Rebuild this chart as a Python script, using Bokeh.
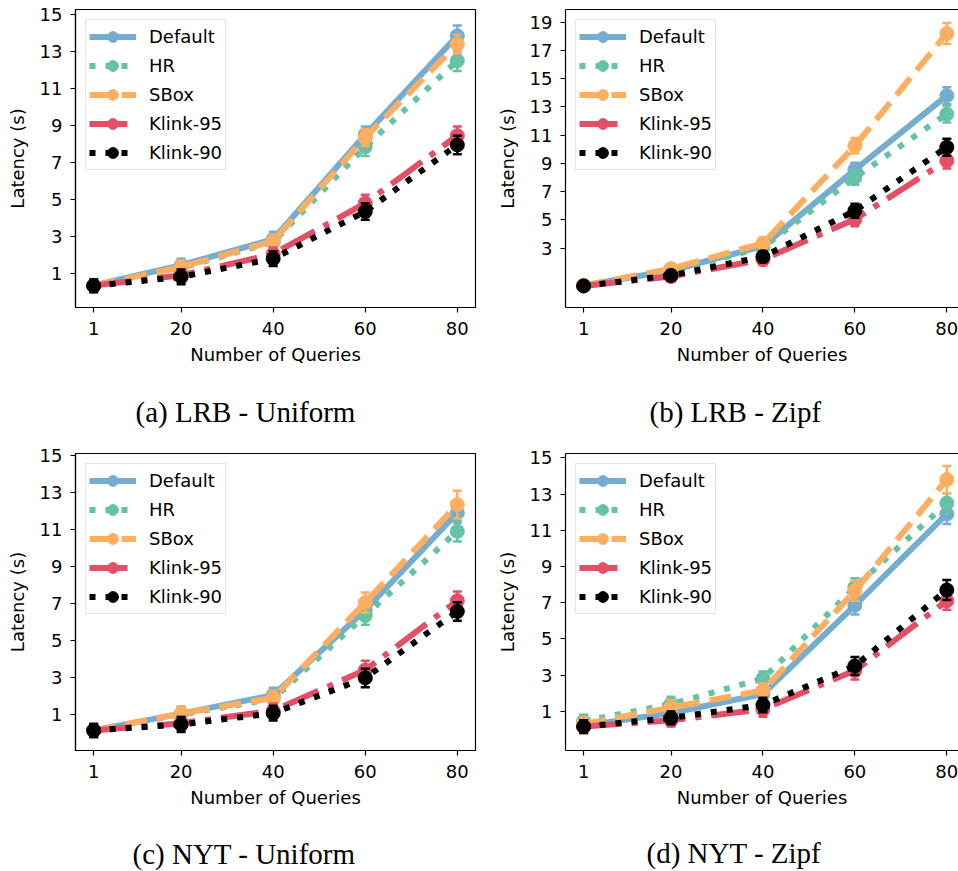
from bokeh.plotting import figure
from bokeh.models import FixedTicker, Range1d, Legend, LegendItem, Title, LinearAxis
from bokeh.layouts import column, row
from bokeh.embed import file_html
from bokeh.resources import INLINE

# ---------------- data ----------------
queries = [1, 20, 40, 60, 80]
x_ticks = [1, 20, 40, 60, 80]
series_names = ["Default", "HR", "SBox", "Klink-95", "Klink-90"]

# (a) LRB - Uniform
lrb_uni_default = [0.35, 1.45, 2.85, 8.50, 13.85]
lrb_uni_hr = [0.35, 1.30, 2.70, 7.85, 12.50]
lrb_uni_sbox = [0.35, 1.35, 2.75, 8.35, 13.40]
lrb_uni_k95 = [0.35, 0.90, 2.05, 4.80, 8.45]
lrb_uni_k90 = [0.33, 0.82, 1.80, 4.35, 7.95]
lrb_uni_default_err = [0.35, 0.35, 0.40, 0.45, 0.55]
lrb_uni_hr_err = [0.30, 0.30, 0.35, 0.50, 0.55]
lrb_uni_sbox_err = [0.30, 0.35, 0.35, 0.45, 0.50]
lrb_uni_k95_err = [0.30, 0.30, 0.35, 0.45, 0.50]
lrb_uni_k90_err = [0.35, 0.40, 0.40, 0.45, 0.50]

# (b) LRB - Zipf
lrb_zipf_default = [0.36, 1.42, 3.15, 8.55, 13.80]
lrb_zipf_hr = [0.35, 1.35, 3.05, 8.00, 12.50]
lrb_zipf_sbox = [0.36, 1.55, 3.35, 10.25, 18.20]
lrb_zipf_k95 = [0.33, 1.00, 2.20, 5.05, 9.20]
lrb_zipf_k90 = [0.33, 1.07, 2.40, 5.65, 10.15]
lrb_zipf_default_err = [0.30, 0.35, 0.40, 0.50, 0.60]
lrb_zipf_hr_err = [0.30, 0.35, 0.40, 0.50, 0.60]
lrb_zipf_sbox_err = [0.30, 0.35, 0.40, 0.55, 0.75]
lrb_zipf_k95_err = [0.30, 0.35, 0.40, 0.50, 0.55]
lrb_zipf_k90_err = [0.30, 0.35, 0.40, 0.50, 0.60]

# (c) NYT - Uniform
nyt_uni_default = [0.14, 1.05, 2.05, 6.65, 11.90]
nyt_uni_hr = [0.14, 1.00, 1.85, 6.35, 10.90]
nyt_uni_sbox = [0.14, 1.05, 1.90, 7.05, 12.35]
nyt_uni_k95 = [0.14, 0.53, 1.20, 3.40, 7.15]
nyt_uni_k90 = [0.14, 0.46, 1.07, 2.98, 6.57]
nyt_uni_default_err = [0.35, 0.35, 0.40, 0.50, 0.55]
nyt_uni_hr_err = [0.35, 0.35, 0.40, 0.50, 0.55]
nyt_uni_sbox_err = [0.35, 0.40, 0.40, 0.55, 0.75]
nyt_uni_k95_err = [0.35, 0.35, 0.40, 0.50, 0.50]
nyt_uni_k90_err = [0.35, 0.40, 0.40, 0.50, 0.50]

# (d) NYT - Zipf
nyt_zipf_default = [0.20, 0.90, 1.95, 6.85, 11.90]
nyt_zipf_hr = [0.45, 1.40, 2.80, 7.85, 12.50]
nyt_zipf_sbox = [0.30, 1.20, 2.15, 7.65, 13.80]
nyt_zipf_k95 = [0.15, 0.50, 1.10, 3.25, 7.10]
nyt_zipf_k90 = [0.15, 0.63, 1.35, 3.50, 7.70]
nyt_zipf_default_err = [0.35, 0.35, 0.40, 0.50, 0.55]
nyt_zipf_hr_err = [0.35, 0.40, 0.40, 0.50, 0.55]
nyt_zipf_sbox_err = [0.35, 0.40, 0.40, 0.55, 0.75]
nyt_zipf_k95_err = [0.35, 0.35, 0.40, 0.50, 0.50]
nyt_zipf_k90_err = [0.35, 0.35, 0.40, 0.50, 0.55]

y_ticks_a = [1, 3, 5, 7, 9, 11, 13, 15]
y_ticks_b = [3, 5, 7, 9, 11, 13, 15, 17, 19]
y_ticks_c = [1, 3, 5, 7, 9, 11, 13, 15]
y_ticks_d = [1, 3, 5, 7, 9, 11, 13, 15]

captions = ["(a) LRB - Uniform", "(b) LRB - Zipf", "(c) NYT - Uniform", "(d) NYT - Zipf"]

# ---------------- styles ----------------
COLORS = ["#74add1", "#66c2a5", "#fdae61", "#e34f66", "#000000"]
DASHES = ["solid", "6 10", "22 10", "38 10 6 10", "6 10"]
LW = 6
FONT = "DejaVu Sans"
CAP_FONT = "Liberation Serif"


def make_panel(values, errors, y_ticks, y_range, x_end, caption,
               width, height, border_left, border_right, border_top, border_bottom,
               full_box, cap_offset, cap_gap):
    p = figure(width=width, height=height, output_backend="svg", toolbar_location=None,
               title=None,
               x_range=Range1d(-2.95, x_end), y_range=Range1d(*y_range),
               min_border_left=border_left, min_border_right=border_right,
               min_border_top=border_top, min_border_bottom=border_bottom)
    p.background_fill_color = "white"
    p.border_fill_color = "white"
    p.xgrid.visible = False
    p.ygrid.visible = False
    if full_box:
        p.outline_line_color = "black"
        p.outline_line_width = 1.2
        p.outline_line_alpha = 1.0
    else:
        p.outline_line_color = None

    for ax in (p.xaxis[0], p.yaxis[0]):
        ax.axis_line_color = "black"
        ax.axis_line_width = 1.2
        ax.major_tick_line_color = "black"
        ax.major_tick_line_width = 1.2
        ax.major_tick_out = 5
        ax.major_tick_in = 0
        ax.minor_tick_line_color = None
        ax.major_label_text_font = FONT
        ax.major_label_text_font_size = "18px"
        ax.major_label_text_color = "black"
        ax.axis_label_text_font = FONT
        ax.axis_label_text_font_size = "18px"
        ax.axis_label_text_font_style = "normal"
        ax.axis_label_text_color = "black"

    p.xaxis[0].ticker = FixedTicker(ticks=x_ticks)
    p.yaxis[0].ticker = FixedTicker(ticks=y_ticks)
    p.xaxis[0].axis_label = "Number of Queries"
    p.yaxis[0].axis_label = "Latency (s)"
    p.xaxis[0].major_label_standoff = 9
    p.xaxis[0].axis_label_standoff = 6
    p.yaxis[0].major_label_standoff = 8
    p.yaxis[0].axis_label_standoff = 9

    items = []
    for name, ys, es, color, dash in zip(series_names, values, errors, COLORS, DASHES):
        lr = p.line(queries, ys, line_color=color, line_width=LW, line_dash=dash,
                    line_join="round")
        lo = [y - e for y, e in zip(ys, es)]
        hi = [y + e for y, e in zip(ys, es)]
        p.segment(x0=queries, y0=lo, x1=queries, y1=hi, line_color=color, line_width=2.5)
        p.scatter(queries, lo, marker="dash", size=9, line_color=color, line_width=2.5)
        p.scatter(queries, hi, marker="dash", size=9, line_color=color, line_width=2.5)
        mr = p.scatter(queries, ys, marker="circle", size=14, fill_color=color,
                       line_color=color, line_width=1)
        items.append(LegendItem(label=name, renderers=[lr, mr]))

    legend = Legend(items=items, location="top_left", margin=10, padding=3,
                    spacing=2, glyph_width=47, glyph_height=27, label_height=27,
                    label_standoff=13, label_text_font=FONT, label_text_font_size="18px",
                    label_text_color="black", border_line_color="#cccccc",
                    border_line_width=1, background_fill_color="white",
                    background_fill_alpha=0.8)
    p.add_layout(legend, "center")

    spacer = Title(text=" ", text_font_size="1px", standoff=cap_gap, text_color="white")
    p.add_layout(spacer, "below")
    cap = Title(text=caption, align="left", offset=cap_offset, standoff=-26,
                text_font=CAP_FONT, text_font_size="29px", text_font_style="normal",
                text_color="black")
    p.add_layout(cap, "below")

    if not full_box:
        top_axis = LinearAxis(ticker=FixedTicker(ticks=[]), major_tick_out=0, major_tick_in=0,
                              minor_tick_out=0, minor_tick_in=0, major_label_standoff=0,
                              major_label_text_font_size="0px", axis_label=None,
                              axis_line_color="black", axis_line_width=1.2)
        p.add_layout(top_axis, "above")
    return p


pa = make_panel([lrb_uni_default, lrb_uni_hr, lrb_uni_sbox, lrb_uni_k95, lrb_uni_k90],
                [lrb_uni_default_err, lrb_uni_hr_err, lrb_uni_sbox_err, lrb_uni_k95_err, lrb_uni_k90_err],
                y_ticks_a, (-0.838, 15.27), 83.95, captions[0],
                478, 440, 75, 3, 9, 133, True, 60, 36)
pb = make_panel([lrb_zipf_default, lrb_zipf_hr, lrb_zipf_sbox, lrb_zipf_k95, lrb_zipf_k90],
                [lrb_zipf_default_err, lrb_zipf_hr_err, lrb_zipf_sbox_err, lrb_zipf_k95_err, lrb_zipf_k90_err],
                y_ticks_b, (-1.198, 19.9), 82.54, captions[1],
                480, 440, 87, 0, 9, 133, False, 84, 36)
pc = make_panel([nyt_uni_default, nyt_uni_hr, nyt_uni_sbox, nyt_uni_k95, nyt_uni_k90],
                [nyt_uni_default_err, nyt_uni_hr_err, nyt_uni_sbox_err, nyt_uni_k95_err, nyt_uni_k90_err],
                y_ticks_c, (-0.946, 15.11), 83.95, captions[2],
                478, 431, 75, 3, 13, 121, True, 57, 35)
pd_ = make_panel([nyt_zipf_default, nyt_zipf_hr, nyt_zipf_sbox, nyt_zipf_k95, nyt_zipf_k90],
                 [nyt_zipf_default_err, nyt_zipf_hr_err, nyt_zipf_sbox_err, nyt_zipf_k95_err, nyt_zipf_k90_err],
                 y_ticks_d, (-1.17, 15.24), 82.54, captions[3],
                 480, 431, 87, 0, 13, 121, False, 81, 34)

layout = column(row(pa, pb, spacing=0), row(pc, pd_, spacing=0), spacing=0)

with open("out.html", "w") as f:
    f.write(file_html(layout, INLINE))
